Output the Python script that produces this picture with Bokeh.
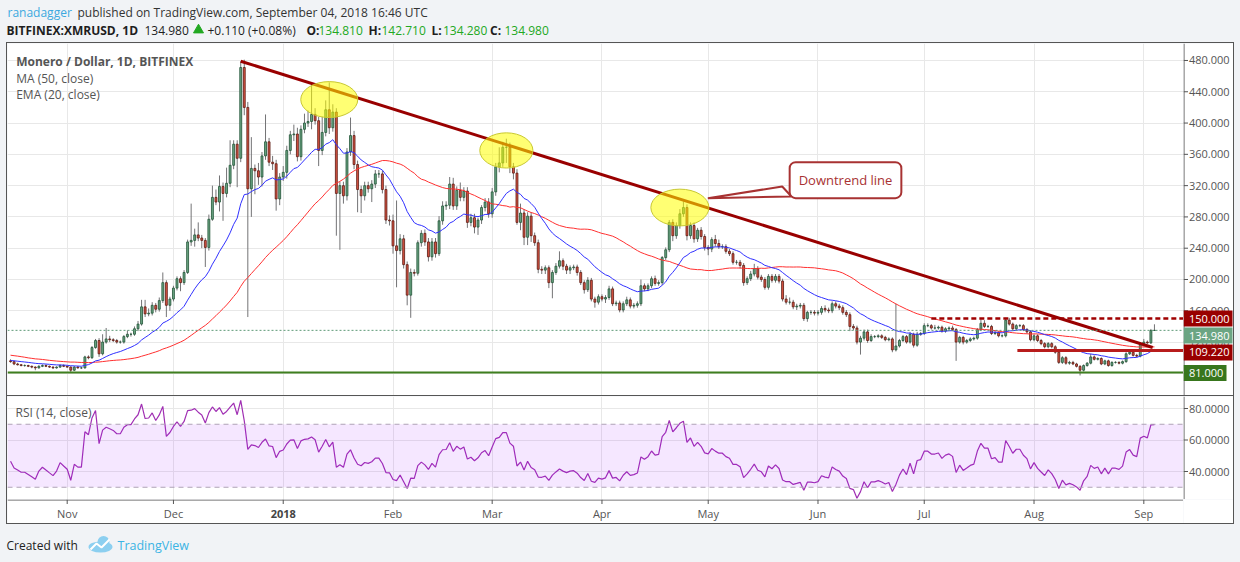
import numpy as np
import pandas as pd
from bokeh.plotting import figure
from bokeh.layouts import column, row
from bokeh.models import (Range1d, FixedTicker, Label, Span, Grid, BoxAnnotation,
                          ColumnDataSource, Spacer)
from bokeh.embed import file_html
from bokeh.resources import INLINE
from bokeh.core.properties import value

FONT = "Open Sans"
PAGE_BG = "#f1f3f6"
AXIS_COLOR = "#555555"
GRID_COLOR = "#e8e8e8"

# ---------------- data ----------------
start_day = -16          # first candle 16 Oct 2017 (day 0 = 1 Nov 2017)
first_open = 96.0

closes = [
    95, 92, 91, 90, 90, 89, 88, 87, 89, 90,
    89, 88, 87, 88, 90, 89, 88, 84, 88, 87,
    87, 101, 100, 113, 122, 105, 120, 124, 123, 122,
    120, 120, 127, 130, 130, 137, 143, 165, 156, 157,
    167, 162, 173, 196, 167, 175, 189, 201, 196, 209,
    248, 250, 257, 253, 250, 241, 277, 305, 299, 319,
    310, 323, 346, 373, 355, 471, 420, 316, 342, 339,
    331, 358, 376, 350, 348, 303, 331, 337, 365, 385,
    386, 357, 392, 400, 402, 411, 403, 365, 388, 417,
    394, 414, 310, 320, 307, 363, 384, 347, 315, 307,
    320, 316, 322, 335, 335, 315, 276, 275, 243, 237,
    252, 219, 180, 209, 208, 247, 259, 248, 229, 248,
    233, 275, 294, 295, 322, 294, 314, 305, 313, 273,
    279, 267, 276, 292, 299, 284, 312, 344, 349, 369,
    369, 344, 336, 273, 285, 254, 281, 256, 247, 213,
    212, 215, 196, 209, 217, 224, 217, 212, 215, 216,
    209, 196, 187, 199, 175, 171, 178, 175, 177, 188,
    169, 170, 161, 169, 174, 166, 167, 169, 192, 188,
    192, 201, 195, 196, 228, 238, 273, 256, 269, 284,
    292, 256, 269, 252, 263, 255, 241, 239, 251, 246,
    242, 242, 236, 233, 222, 222, 218, 196, 201, 207,
    214, 203, 200, 190, 204, 199, 204, 198, 175, 171,
    171, 165, 166, 167, 150, 158, 158, 157, 158, 163,
    161, 160, 169, 166, 164, 158, 155, 140, 138, 120,
    125, 133, 122, 127, 127, 128, 126, 123, 124, 110,
    115, 122, 127, 120, 130, 116, 130, 131, 141, 141,
    138, 138, 139, 134, 137, 138, 136, 120, 126, 120,
    122, 124, 125, 136, 144, 140, 140, 131, 132, 128,
    128, 148, 143, 137, 141, 141, 136, 133, 123, 128,
    122, 118, 114, 118, 114, 107, 94, 100, 93, 94,
    92, 89, 84, 90, 93, 101, 98, 99, 92, 96,
    90, 94, 94, 93, 95, 105, 107, 103, 102, 118,
    120, 119, 134.81, 134.98,
]

wick_up = [
    2, 1.5, 1.5, 1, 1.5, 1, 1, 1, 1.5, 1.5,
    1.5, 1, 1, 1, 1.5, 1.5, 1, 1, 1.5, 1.5,
    1, 1.5, 2, 2, 2, 3, 10, 14, 4, 2,
    2, 2, 2, 5, 2, 3, 4, 9, 9, 6,
    4, 3, 4, 13, 3, 3, 3, 3, 3, 3,
    3, 47, 8, 16, 4, 3, 6, 15, 10, 14,
    5, 20, 32, 5, 5, 8, 10, 7, 40, 5,
    10, 5, 35, 5, 8, 5, 5, 8, 6, 5,
    12, 8, 5, 12, 14, 39, 8, 5, 20, 12,
    35, 10, 5, 5, 5, 5, 23, 6, 5, 5,
    5, 5, 5, 5, 5, 4, 5, 6, 8, 58,
    6, 5, 4, 5, 4, 3, 4, 5, 5, 5,
    5, 6, 6, 5, 9, 8, 5, 10, 5, 5,
    5, 5, 3, 3, 5, 5, 5, 5, 20, 7,
    11, 6, 5, 5, 12, 5, 5, 5, 4, 4,
    4, 3, 3, 3, 4, 12, 3, 3, 3, 3,
    3, 3, 3, 4, 3, 3, 3, 3, 3, 4,
    3, 3, 3, 3, 4, 3, 3, 3, 8, 3,
    3, 3, 4, 3, 2, 3, 3, 4, 4, 6,
    8, 4, 4, 4, 3, 4, 3, 3, 3, 6,
    5, 3, 3, 3, 3, 3, 3, 3, 3, 4,
    6, 3, 3, 3, 3, 3, 3, 3, 3, 5,
    6, 3, 3, 3, 3, 2, 3, 3, 3, 3,
    4, 3, 3, 3, 3, 3, 3, 3, 3, 3,
    3, 3, 3, 3, 2, 2, 2, 2, 2, 2,
    54, 2, 2, 2, 3, 2, 3, 2, 3, 3,
    2, 4, 2, 2, 2, 2, 3, 2, 2, 2,
    2, 2, 2, 2, 5, 4, 2, 2, 2, 2,
    2, 3, 3, 2, 2, 2, 2, 2, 2, 2,
    2, 2, 2, 2, 2, 2, 2, 2, 2, 2,
    2, 1.5, 1.5, 1.5, 1.5, 4, 2, 1.5, 1.5, 1.5,
    1.5, 1.5, 1.5, 1.5, 1.5, 2, 2, 2, 2, 2,
    4, 2, 2, 7.73,
]

wick_down = [
    1.5, 1.5, 1, 1, 1.5, 1, 1.5, 3, 1, 1,
    1, 1, 1.5, 1, 1, 1, 1, 3.5, 1, 1,
    1.5, 1, 2, 1.5, 1.5, 4, 2, 2, 3, 2,
    2, 2, 2, 2, 3, 2, 3, 2, 4, 3,
    3, 4, 3, 3, 15, 7, 3, 3, 11, 3,
    2, 5, 8, 4, 10, 25, 4, 2, 4, 12,
    35, 5, 5, 5, 37, 5, 10, 164, 36, 30,
    10, 12, 5, 5, 8, 15, 8, 5, 8, 5,
    8, 6, 5, 5, 5, 10, 5, 20, 6, 5,
    8, 5, 54, 72, 10, 6, 5, 6, 29, 22,
    6, 5, 17, 5, 5, 5, 5, 6, 10, 47,
    5, 5, 13, 29, 4, 3, 5, 5, 6, 5,
    5, 3, 5, 5, 5, 5, 5, 5, 5, 7,
    5, 8, 10, 5, 5, 5, 5, 5, 7, 5,
    20, 8, 8, 3, 10, 10, 10, 8, 4, 5,
    5, 5, 7, 20, 3, 3, 5, 5, 5, 3,
    4, 3, 5, 3, 3, 7, 3, 3, 5, 3,
    3, 3, 3, 3, 3, 3, 3, 3, 3, 3,
    3, 3, 3, 3, 3, 3, 3, 7, 4, 4,
    4, 6, 4, 5, 4, 4, 4, 8, 4, 4,
    3, 3, 3, 3, 3, 3, 4, 4, 3, 3,
    3, 3, 3, 3, 3, 3, 3, 3, 3, 3,
    3, 3, 4, 3, 3, 4, 3, 3, 3, 3,
    3, 3, 3, 3, 3, 3, 3, 6, 3, 3,
    16, 3, 3, 2, 2, 2, 2, 2, 2, 3,
    2, 2, 2, 2, 2, 3, 2, 2, 2, 2,
    2, 2, 2, 2, 2, 2, 2, 24, 2, 3,
    2, 2, 2, 2, 2, 2, 2, 2, 2, 2,
    2, 2, 2, 2, 2, 2, 2, 2, 2, 2,
    2, 2, 2, 2, 2, 2, 2, 2, 2, 2,
    1.5, 1.5, 6.7, 1.5, 1.5, 1.5, 1.5, 1.5, 1.5, 1.5,
    1.5, 1.5, 1.5, 1.5, 1.5, 1.5, 1.5, 1.5, 1.5, 1.5,
    1.5, 1.5, 1.5, 0.53,
]

# closes before the visible window (late Aug - mid Oct 2017), estimated,
# only used to warm up MA(50), EMA(20) and RSI(14)
warmup_closes = [
    120, 122, 120, 124, 126, 130, 118, 120, 105, 112,
    118, 116, 110, 110, 108, 106, 104, 100, 87, 100,
    99, 99, 110, 104, 104, 93, 94, 98, 95, 103,
    101, 107, 104, 100, 101, 100, 98, 93, 91, 92,
    91, 92, 93, 93, 92, 92, 98, 98, 98, 96,
]

month_ticks = [0, 30, 61, 92, 120, 151, 181, 212, 242, 273, 304]
month_labels = ["Nov", "Dec", "2018", "Feb", "Mar", "Apr", "May", "Jun", "Jul", "Aug", "Sep"]
price_ticks = [80, 120, 160, 200, 240, 280, 320, 360, 400, 440, 480]
rsi_ticks = [40, 60, 80]
rsi_band = [30, 70]

trend_x = [49, 306.5]
trend_y = [479.0, 113.0]
ellipse_x = [74, 124, 173]
ellipse_y = [430, 365, 292]
ellipse_w = [16.1, 15.0, 16.4]
ellipse_h = [46, 45, 47]

resistance = 150.0
resistance_from = 244
support = 109.22
support_from = 268.3
floor_level = 81.0
last_price = 134.98

# price tags on the right scale
tag_text = ["150.000", "134.980", "109.220", "81.000"]
tag_y = [150.0, 128.4, 106.7, 80.6]
tag_color = ["#990000", "#6ba583", "#990000", "#38761d"]
tag_w = [49, 49, 49, 43]

callout_text = "Downtrend line"
callout_x = 204.0
callout_y = 327.0
callout_tail_x = [201.9, 180.9, 204.5]
callout_tail_y = [318.9, 303.9, 306.1]

# ---------------- derived series ----------------
c = np.array(closes, dtype=float)
o = np.concatenate([[first_open], c[:-1]])
hi = np.maximum(o, c) + np.array(wick_up, dtype=float)
lo = np.minimum(o, c) - np.array(wick_down, dtype=float)
x = np.arange(len(c)) + start_day

allc = pd.Series(np.array(warmup_closes + closes, dtype=float))
n = len(closes)
ma50 = allc.rolling(50).mean().values[-n:]
ema20 = allc.ewm(span=20, adjust=False).mean().values[-n:]
dlt = np.diff(allc.values)
g = pd.Series(np.where(dlt > 0, dlt, 0.0)).ewm(alpha=1 / 14, adjust=False).mean().values
l_ = pd.Series(np.where(dlt < 0, -dlt, 0.0)).ewm(alpha=1 / 14, adjust=False).mean().values
rsi = (100 - 100 / (1 + g / l_))[-n:]

up = c >= o
src = ColumnDataSource(dict(
    x=x, high=hi, low=lo,
    top=np.maximum(o, c), bottom=np.minimum(o, c),
    fill=np.where(up, "#6ba583", "#d75442"),
    line=np.where(up, "#225437", "#5b1a13"),
))

PX_PER_DAY = 3.5415
X0 = (7 - 66.7) / PX_PER_DAY
X1 = (1183 - 66.7) / PX_PER_DAY
xr = Range1d(X0, X1)
yr_price = Range1d(51.7, 501.7)
yr_rsi = Range1d(21.59, 87.62)


def blank(w, h, xrange=None, yrange=None, bg="white"):
    f = figure(width=w, height=h,
               x_range=xrange if xrange is not None else Range1d(0, w),
               y_range=yrange if yrange is not None else Range1d(h, 0),
               toolbar_location=None, output_backend="svg", min_border=0,
               x_axis_location=None, y_axis_location=None,
               background_fill_color=bg, border_fill_color=bg,
               outline_line_color=None)
    f.xgrid.visible = False
    f.ygrid.visible = False
    return f


def txt(f, xx, yy, s, color="#333333", size="12px", style="normal", align="left"):
    f.text(x=xx if isinstance(xx, list) else [xx], y=yy if isinstance(yy, list) else [yy],
           text=s if isinstance(s, list) else [s], text_color=color,
           text_font=value(FONT), text_font_size=size, text_font_style=style,
           text_align=align, text_baseline="middle")


# ---------------- header ----------------
hdr = blank(1240, 42, bg=PAGE_BG)
GREEN_TXT = "#22a822"
txt(hdr, 7, 12, "ranadagger", color="#3ca9e0")
txt(hdr, 77, 12, "published on TradingView.com, September 04, 2018 16:46 UTC", color="#333333")
txt(hdr, 6, 30, "BITFINEX:XMRUSD, 1D", color="#1e1e1e", style="bold")
txt(hdr, 144, 30, "134.980", color="#1e1e1e")
hdr.scatter(x=[198], y=[29.5], marker="triangle", size=10, color=GREEN_TXT)
txt(hdr, 207, 30, "+0.110 (+0.08%)", color="#1e1e1e")
for xx, s in [(306, "O:"), (368, "H:"), (431, "L:"), (489.5, "C:")]:
    txt(hdr, xx, 30, s, color="#1e1e1e", style="bold")
for xx, s in [(318, "134.810"), (381, "142.710"), (442.5, "134.280"), (504, "134.980")]:
    txt(hdr, xx, 30, s, color=GREEN_TXT)

# ---------------- main price panel ----------------
p = blank(1176, 352, xrange=xr, yrange=yr_price)
p.add_layout(Grid(dimension=0, ticker=FixedTicker(ticks=month_ticks), grid_line_color=GRID_COLOR))
p.add_layout(Grid(dimension=1, ticker=FixedTicker(ticks=price_ticks), grid_line_color=GRID_COLOR))

p.segment("x", "high", "x", "low", source=src, line_color="#737375", line_width=1)
p.vbar(x="x", top="top", bottom="bottom", width=0.55, fill_color="fill",
       line_color="line", line_width=0.8, source=src)
p.line(x, ma50, line_color="#ff3030", line_width=1)
p.line(x, ema20, line_color="#3030ff", line_width=1)

p.add_layout(Span(location=last_price, dimension="width", line_color="#5f9a78",
                  line_dash="2 2", line_width=1))
p.add_layout(Span(location=floor_level, dimension="width", line_color="#3f7f1f", line_width=2))
p.segment(x0=[resistance_from], y0=[resistance], x1=[X1], y1=[resistance],
          line_color="#a00000", line_width=2.5, line_dash="5 3")
p.segment(x0=[support_from], y0=[support], x1=[X1], y1=[support],
          line_color="#b81c1c", line_width=3)
p.line(trend_x, trend_y, line_color="#990000", line_width=3)
p.ellipse(x=ellipse_x, y=ellipse_y, width=ellipse_w, height=ellipse_h,
          fill_color="#ffff00", fill_alpha=0.55, line_color="#c8c832", line_width=1)

CALLOUT = "#a83232"
p.patch(callout_tail_x, callout_tail_y, fill_color="white", line_color=CALLOUT, line_width=2)
p.add_layout(Label(x=callout_x, y=callout_y, text=callout_text, text_font=FONT,
                   text_font_size="13px", text_color=CALLOUT, text_align="left",
                   text_baseline="middle", background_fill_color="white",
                   border_line_color=CALLOUT, border_line_width=2, padding=9,
                   border_radius=6))

legend_x = -14.4
for yy, s, st in [(479.1, "Monero / Dollar, 1D, BITFINEX", "bold"),
                  (457.4, "MA (50, close)", "normal"),
                  (436.1, "EMA (20, close)", "normal")]:
    p.add_layout(Label(x=legend_x, y=yy, text=s, text_font=FONT, text_font_size="12px",
                       text_color="#555555", text_font_style=st, text_baseline="middle"))

# right price scale (drawn with the shared price range)
ps = blank(50, 352, yrange=yr_price)
ps.x_range = Range1d(0, 50)
ps.segment(x0=[0.5], y0=[yr_price.start], x1=[0.5], y1=[yr_price.end], line_color=AXIS_COLOR)
ps.segment(x0=0, y0=price_ticks, x1=4.5, y1=price_ticks, line_color=AXIS_COLOR)
txt(ps, [5.5] * len(price_ticks), price_ticks, [f"{v:.3f}" for v in price_ticks],
    color=AXIS_COLOR, size="11px")
ps.rect(x=[w / 2 for w in tag_w], y=tag_y, width=tag_w, height=16, height_units="screen",
        fill_color=tag_color, line_color=None)
txt(ps, [5.5] * len(tag_y), tag_y, tag_text, color="white", size="11px")

# ---------------- RSI panel ----------------
r = blank(1176, 104, xrange=xr, yrange=yr_rsi)
r.styles = {"border-top": "1px solid #555555"}
r.add_layout(Grid(dimension=0, ticker=FixedTicker(ticks=month_ticks), grid_line_color=GRID_COLOR))
r.add_layout(Grid(dimension=1, ticker=FixedTicker(ticks=rsi_ticks), grid_line_color=GRID_COLOR))
r.add_layout(BoxAnnotation(bottom=rsi_band[0], top=rsi_band[1], fill_color="#9915ff",
                           fill_alpha=0.1, line_color=None))
for lv in rsi_band:
    r.add_layout(Span(location=lv, dimension="width", line_color="#aea2b6",
                      line_dash="5 4", line_width=1))
r.line(x, rsi, line_color="#a02fb3", line_width=1.2)
r.add_layout(Label(x=-14.6, y=77.5, text="RSI (14, close)", text_font=FONT,
                   text_font_size="12px", text_color="#555555", text_baseline="middle"))

rs = blank(50, 104, yrange=yr_rsi)
rs.x_range = Range1d(0, 50)
rs.styles = {"border-top": "1px solid #555555"}
rs.segment(x0=[0.5], y0=[yr_rsi.start], x1=[0.5], y1=[yr_rsi.end], line_color=AXIS_COLOR)
rs.segment(x0=0, y0=rsi_ticks, x1=4.5, y1=rsi_ticks, line_color=AXIS_COLOR)
txt(rs, [5.5] * len(rsi_ticks), rsi_ticks, [f"{v:.4f}" for v in rsi_ticks],
    color=AXIS_COLOR, size="11px")

# ---------------- time scale ----------------
xs = blank(1176, 24, xrange=xr, yrange=Range1d(24, 0))
xs.segment(x0=[X0], y0=[0.5], x1=[X1], y1=[0.5], line_color=AXIS_COLOR)
xs.segment(x0=month_ticks, y0=0, x1=month_ticks, y1=4.5, line_color=AXIS_COLOR)
norm = [(t, s) for t, s in zip(month_ticks, month_labels) if s != "2018"]
txt(xs, [t for t, _ in norm], [14] * len(norm), [s for _, s in norm],
    color=AXIS_COLOR, size="11px", align="center")
txt(xs, [61], [14], ["2018"], color="#444444", size="11px", style="bold", align="center")
corner = blank(50, 24)

# ---------------- footer ----------------
ftr = blank(1240, 37, bg=PAGE_BG)
txt(ftr, 6, 19.5, "Created with", color="#222222")
ftr.ellipse(x=[100], y=[21.5], width=[24], height=[11], fill_color="#8ccff0", line_color=None)
ftr.circle(x=[103], y=[16.5], radius=6, fill_color="#8ccff0", line_color=None)
ftr.line([90, 96, 101, 109], [24, 18, 22, 14], line_color="white", line_width=2)
txt(ftr, 117, 19.5, "TradingView", color="#3bb3e4", size="12.5px")

chart = column(row(p, ps), row(r, rs), row(xs, corner),
               styles={"border": "1px solid #555555"})
middle = row(Spacer(width=6, height=483), chart)
layout = column(hdr, middle, ftr, styles={"background-color": PAGE_BG})

with open("out.html", "w") as fh:
    fh.write(file_html(layout, INLINE))
